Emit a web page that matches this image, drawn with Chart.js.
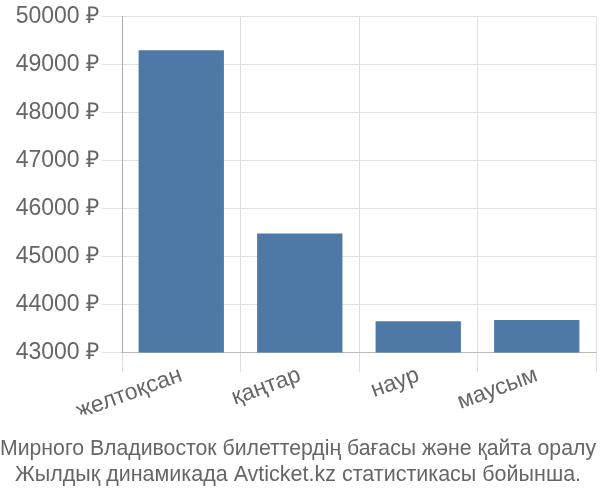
<!DOCTYPE html>
<html><head><meta charset="utf-8">
<script src="https://cdn.jsdelivr.net/npm/chart.js@4"></script>
<style>html,body{margin:0;padding:0;background:#fff}#w{width:600px;height:500px}</style>
</head><body><div id="w"><canvas id="c" width="600" height="500"></canvas></div>
<script>
const categories = ["желтоқсан", "қаңтар", "наур", "маусым"];
const prices = [49300, 45480, 43650, 43680];
const yTicks = [43000, 44000, 45000, 46000, 47000, 48000, 49000, 50000];
const captionLines = ["Мирного Владивосток билеттердің бағасы және қайта оралу", "Жылдық динамикада Avticket.kz статистикасы бойынша."];

new Chart(document.getElementById('c'), {
  type: 'bar',
  data: { labels: categories, datasets: [{ data: prices, backgroundColor: '#4e79a7', barPercentage: 0.72, categoryPercentage: 1 }] },
  options: {
    responsive: false, animation: false,
    layout: { padding: { left: 0, right: 4, top: 6, bottom: 0 } },
    plugins: {
      legend: { display: false }, tooltip: { enabled: false },
      title: { display: true, position: 'bottom', text: captionLines, color: '#666', font: { family: 'Liberation Sans', size: 21.5, weight: 'normal' }, padding: { top: 22, bottom: 12 }, lineHeight: 1.26 }
    },
    scales: {
      x: {
        grid: { color: '#e0e0e0', lineWidth: 1, tickLength: 20, offset: true },
        border: { color: '#bbb' },
        ticks: { color: '#666', font: { family: 'Liberation Sans', size: 23 }, maxRotation: 20, minRotation: 20, padding: -11 }
      },
      y: {
        min: 43000, max: 50000,
        afterBuildTicks: a => { a.ticks = yTicks.map(v => ({ value: v })); },
        afterFit: s => { s.width = 122; },
        grid: { color: '#e0e0e0', lineWidth: 1, tickLength: 20 },
        border: { color: '#aaa' },
        ticks: { color: '#666', font: { family: 'Liberation Sans', size: 23 }, padding: 3, callback: v => v + ' ₽' }
      }
    }
  }
});
</script></body></html>
